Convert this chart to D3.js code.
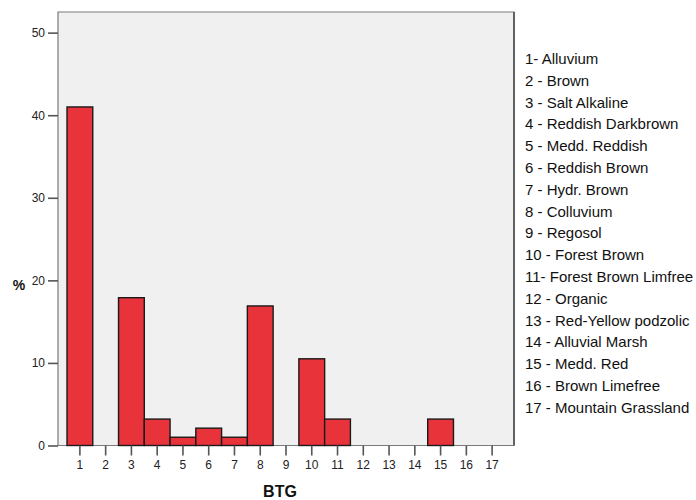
<!DOCTYPE html>
<html>
<head>
<meta charset="utf-8">
<script src="https://cdn.jsdelivr.net/npm/d3@7"></script>
<style>
  html, body { margin: 0; padding: 0; background: #ffffff; }
  svg { display: block; font-family: Arial, "Liberation Sans", sans-serif; }
</style>
</head>
<body>
<svg id="chart" width="696" height="500"></svg>
<script>
// BTG soil groups (codes 1-17) and their share in percent
const categories = ["1","2","3","4","5","6","7","8","9","10","11","12","13","14","15","16","17"];
const percents = [41.0, 0, 17.9, 3.2, 1.0, 2.1, 1.0, 16.9, 0, 10.5, 3.2, 0, 0, 0, 3.2, null, null];
const yTicks = [0, 10, 20, 30, 40, 50];
const legendLabels = [
  "1- Alluvium",
  "2 - Brown",
  "3 - Salt Alkaline",
  "4 - Reddish Darkbrown",
  "5 - Medd. Reddish",
  "6 - Reddish Brown",
  "7 - Hydr. Brown",
  "8 - Colluvium",
  "9 - Regosol",
  "10 - Forest Brown",
  "11- Forest Brown Limfree",
  "12 - Organic",
  "13 - Red-Yellow podzolic",
  "14 - Alluvial Marsh",
  "15 - Medd. Red",
  "16 - Brown Limefree",
  "17 - Mountain Grassland"
];

const svg = d3.select("#chart");
const plot = { left: 58, right: 514, top: 12, bottom: 445.5 };

const x = d3.scaleBand()
  .domain(categories)
  .range([plot.left + 9, plot.right - 9])
  .padding(0);

const y = d3.scaleLinear()
  .domain([0, 52.5])
  .range([plot.bottom, plot.top]);

// plot background
svg.append("rect")
  .attr("x", plot.left)
  .attr("y", plot.top)
  .attr("width", plot.right - plot.left)
  .attr("height", plot.bottom - plot.top)
  .attr("fill", "#f0f0f0")
  .attr("stroke", "none");

// frame
svg.append("path")
  .attr("d", `M${plot.left},${plot.bottom}V${plot.top}H${plot.right}V${plot.bottom}Z`)
  .attr("fill", "none")
  .attr("stroke", "#7a7a7a")
  .attr("stroke-width", 1.2);
svg.append("line")
  .attr("x1", plot.right).attr("x2", plot.right)
  .attr("y1", plot.top).attr("y2", plot.bottom)
  .attr("stroke", "#5a5a5a").attr("stroke-width", 1.8);

// bars
const data = categories.map((c, i) => ({ c, v: percents[i] })).filter(d => d.v !== null);
svg.append("g")
  .selectAll("rect")
  .data(data)
  .join("rect")
  .attr("x", d => x(d.c))
  .attr("y", d => y(d.v))
  .attr("width", x.bandwidth())
  .attr("height", d => y(0) - y(d.v))
  .attr("fill", "#e8333a")
  .attr("stroke", "#1a1a1a")
  .attr("stroke-width", 1.4);

// y axis
const yAxis = svg.append("g")
  .attr("transform", `translate(${plot.left},0)`)
  .call(d3.axisLeft(y).tickValues(yTicks).tickSize(10).tickPadding(3).tickFormat(d3.format("d")));
yAxis.select(".domain").remove();
yAxis.selectAll(".tick line").attr("stroke", "#555").attr("stroke-width", 1.6);
yAxis.selectAll(".tick text").attr("fill", "#222").style("font-size", "12px");

// x axis
const xAxis = svg.append("g")
  .attr("transform", `translate(0,${plot.bottom})`)
  .call(d3.axisBottom(x).tickSize(10).tickPadding(5));
xAxis.select(".domain").remove();
xAxis.selectAll(".tick line").attr("stroke", "#555").attr("stroke-width", 1.6);
xAxis.selectAll(".tick text").attr("fill", "#222").style("font-size", "12px");

// axis titles
svg.append("text")
  .attr("x", 280)
  .attr("y", 497)
  .attr("text-anchor", "middle")
  .style("font-size", "16px")
  .style("font-weight", "bold")
  .attr("fill", "#111")
  .text("BTG");

svg.append("text")
  .attr("x", 19)
  .attr("y", 290)
  .attr("text-anchor", "middle")
  .style("font-size", "14px")
  .style("font-weight", "bold")
  .attr("fill", "#111")
  .text("%");

// legend of soil group names
svg.append("g")
  .selectAll("text")
  .data(legendLabels)
  .join("text")
  .attr("x", 525)
  .attr("y", (d, i) => 64 + i * 21.8)
  .style("font-size", "15px")
  .attr("fill", "#111")
  .text(d => d);
</script>
</body>
</html>
